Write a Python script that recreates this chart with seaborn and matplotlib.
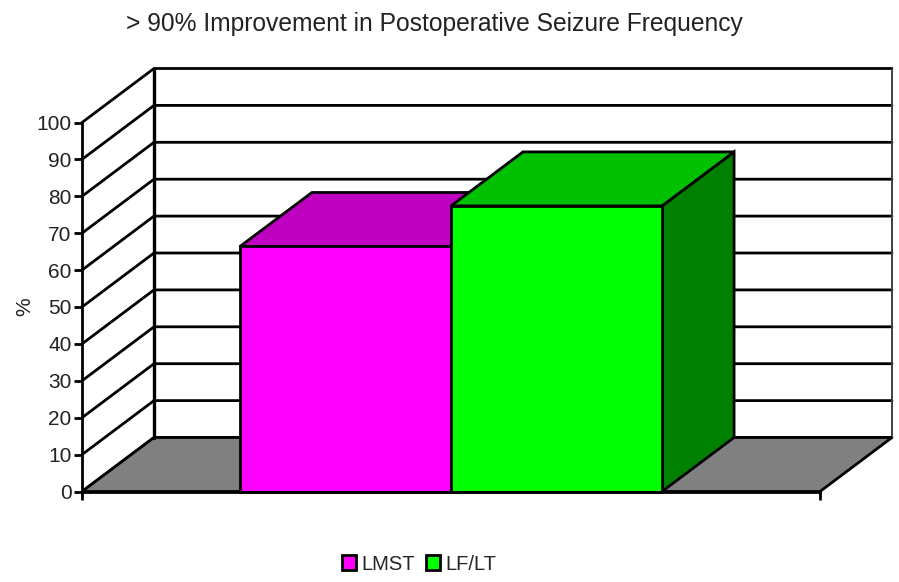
import numpy as np
import pandas as pd
import seaborn as sns
import matplotlib.pyplot as plt
from matplotlib.patches import Polygon

sns.set_theme(style='white')
plt.rcParams['font.family'] = ['Liberation Sans', 'DejaVu Sans']

title = '> 90% Improvement in Postoperative Seizure Frequency'
ylabel = '%'
groups = ['LMST', 'LF/LT']
values = [66.4, 77.4]
group_colors = ['#ff00ff', '#00ff00']
top_colors = ['#c000c0', '#00c000']
side_colors = ['#800080', '#008000']
yticks = list(range(0, 101, 10))

W, H = 899, 582
LW = 2.0
# fake 3d depth of the chart, in axes fractions
depth_x = 72 / 738
depth_y = 54 / 369

fig = plt.figure(figsize=(W / 100, H / 100), dpi=100)
ax = fig.add_axes([82 / W, (H - 491.5) / H, 738 / W, 369 / H])

df = pd.DataFrame({'x': [''] * 2, 'group': groups, 'value': values})
sns.barplot(data=df, x='x', y='value', hue='group', hue_order=groups,
            palette=group_colors, width=0.572, gap=0, saturation=1,
            edgecolor='black', linewidth=LW, ax=ax, zorder=5)
ax.set_xlim(-0.5, 0.5)
ax.set_ylim(0, 100)

dx = depth_x * 1.0
dy = depth_y * 100


def shape(pts, color, z):
    ax.add_patch(Polygon(pts, closed=True, facecolor=color, edgecolor='black',
                         linewidth=LW, joinstyle='miter', clip_on=False, zorder=z))


bars = [c[0] for c in ax.containers]

# floor and back wall
x0, x1 = ax.get_xlim()
shape([(x0, 0), (x1, 0), (x1 + dx, dy), (x0 + dx, dy)], '#808080', 2)
for t in yticks:
    ax.plot([x0, x0 + dx, x1 + dx], [t, t + dy, t + dy], color='black', lw=LW,
            clip_on=False, zorder=1, solid_joinstyle='miter')
ax.plot([x0 + dx, x0 + dx], [dy, 100 + dy], color='black', lw=LW + 0.4, clip_on=False, zorder=3)
ax.plot([x1 + dx, x1 + dx], [dy, 100 + dy], color='#404040', lw=LW - 0.6, clip_on=False, zorder=1)

# bar depth faces, taken from the bars seaborn drew
for i, bar in enumerate(bars):
    bx, bw, bh = bar.get_x(), bar.get_width(), bar.get_height()
    bar.set_zorder(5 + 3 * i)
    bar.set_clip_on(False)
    shape([(bx + bw, 0), (bx + bw + dx, dy), (bx + bw + dx, bh + dy), (bx + bw, bh)],
          side_colors[i], 3 + 3 * i)
    shape([(bx, bh), (bx + dx, bh + dy), (bx + bw + dx, bh + dy), (bx + bw, bh)],
          top_colors[i], 4 + 3 * i)

sns.despine(ax=ax, top=True, right=True)
for s in ['left', 'bottom']:
    ax.spines[s].set_linewidth(LW)
    ax.spines[s].set_color('black')
    ax.spines[s].set_zorder(20)
ax.patch.set_alpha(0)

ax.set_yticks(yticks)
ax.set_xticks([x0, x1])
ax.set_xticklabels(['', ''])
ax.tick_params(axis='both', length=6, width=LW, color='black', direction='out', left=True, bottom=True,
               labelsize=15, labelcolor='#222222', pad=1.5)
ax.set_xlabel('')
ax.set_ylabel(ylabel, fontsize=15, color='#222222')
ax.yaxis.set_label_coords(-0.065, 0.5)

fig.text(434 / W, 1 - 24 / H, title, ha='center', va='center', fontsize=17.7, color='#222222')

sns.move_legend(ax, 'center', bbox_to_anchor=(419 / W, 1 - 564 / H), bbox_transform=fig.transFigure,
                ncol=2, frameon=False, title=None, fontsize=14.5, handlelength=0.7, handleheight=0.7,
                handletextpad=0.25, columnspacing=0.55)

fig.savefig('out.png', dpi=100)
